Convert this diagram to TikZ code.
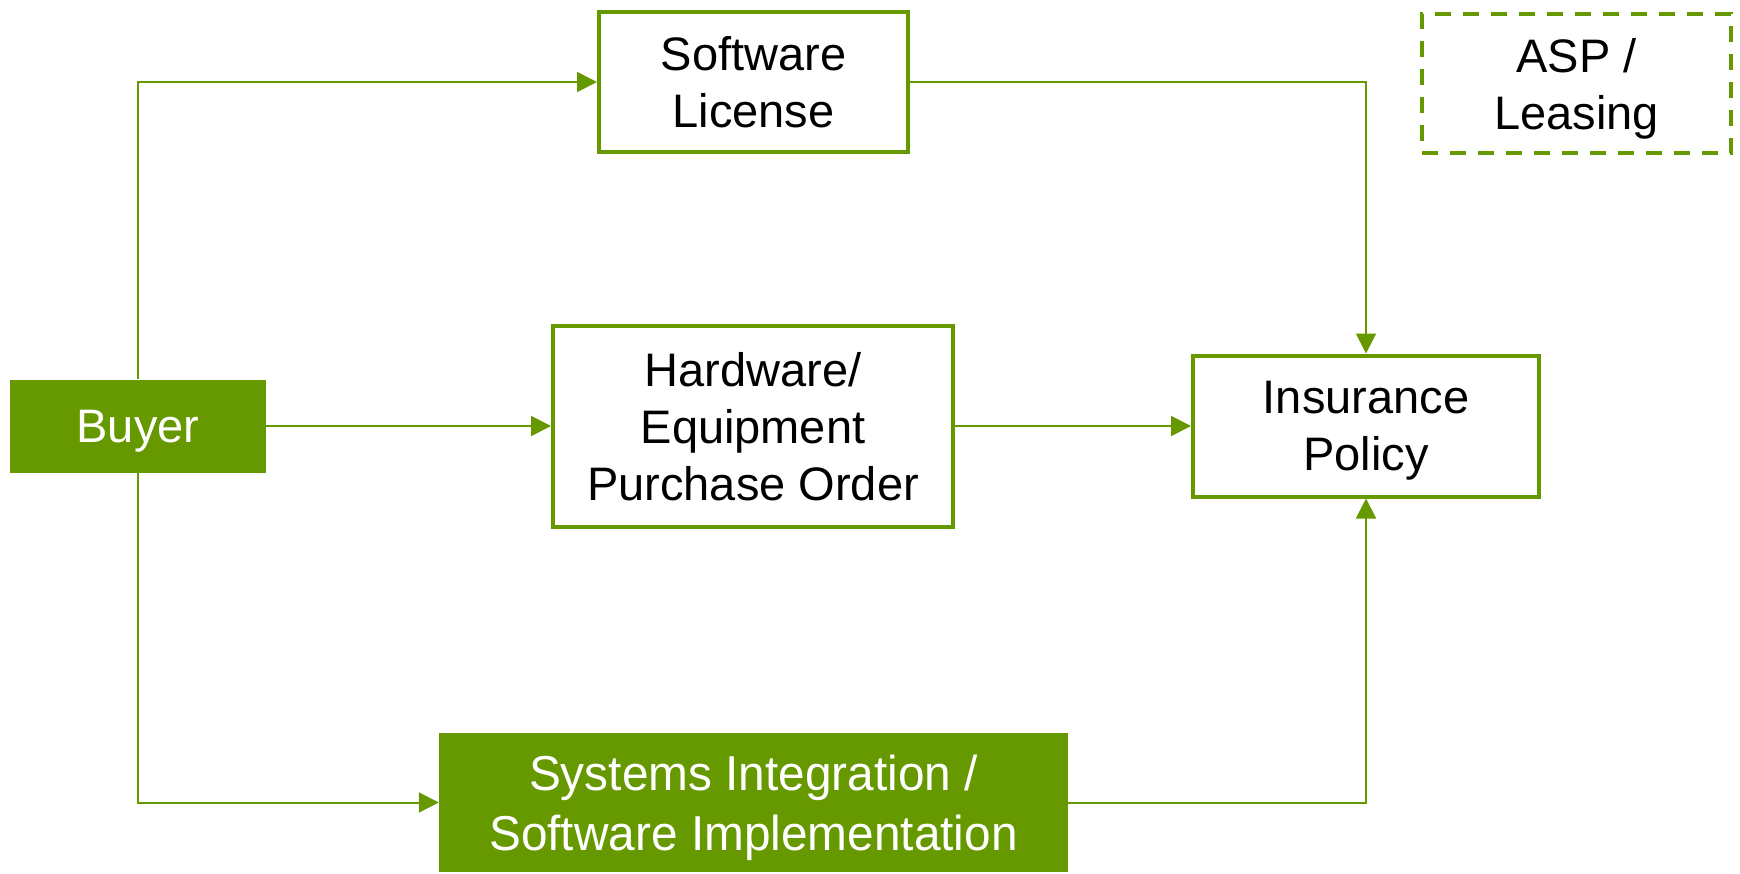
\documentclass[tikz,border=0pt]{standalone}
\usepackage{fontspec}
\setmainfont{Liberation Sans}
\newfontfamily\narrowsans[FakeStretch=0.975]{Liberation Sans}
\usetikzlibrary{arrows.meta}
\definecolor{leaf}{RGB}{102,153,0}
\begin{document}
\begin{tikzpicture}[x=1pt,y=-1pt,
  every node/.style={font=\fontsize{47}{57}\selectfont, align=center, inner sep=0pt, text depth=0pt},
  outlined/.style={draw=leaf, line width=4pt, fill=white, text=black},
  solidbox/.style={fill=leaf, draw=none, text=white},
  optional/.style={draw=leaf, line width=4pt, dash pattern=on 16pt off 12pt, text=black},
  flow/.style={draw=leaf, line width=2pt, -{Triangle[length=20pt,width=20pt]}}
]
\useasboundingbox (0,0) rectangle (1740,873);

% boxes
\node[solidbox, minimum width=256pt, minimum height=93pt] (buyer) at (138,426) {Buyer};
\node[outlined, minimum width=309pt, minimum height=140pt] (soft) at (753.5,82) {Software\\License};
\node[outlined, minimum width=400pt, minimum height=201pt] (hw) at (753,426) {Hardware/\\Equipment\\Purchase Order};
\node[outlined, minimum width=346pt, minimum height=141pt] (ins) at (1366,426) {Insurance\\Policy};
\node[optional, minimum width=309pt, minimum height=139pt] (asp) at (1576.5,83.5) {ASP /\\Leasing};
\node[solidbox, minimum width=629pt, minimum height=139pt,
      font=\narrowsans\fontsize{49}{60}\selectfont] (sys) at (753.5,802.5) {Systems Integration /\\Software Implementation};

% connectors
\draw[flow] (buyer.north) |- (soft.west);
\draw[flow] (buyer.south) |- (sys.west);
\draw[flow] (buyer.east) -- (hw.west);
\draw[flow] (hw.east) -- (ins.west);
\draw[flow] (soft.east) -| (ins.north);
\draw[flow] (sys.east) -| (ins.south);
\end{tikzpicture}
\end{document}
